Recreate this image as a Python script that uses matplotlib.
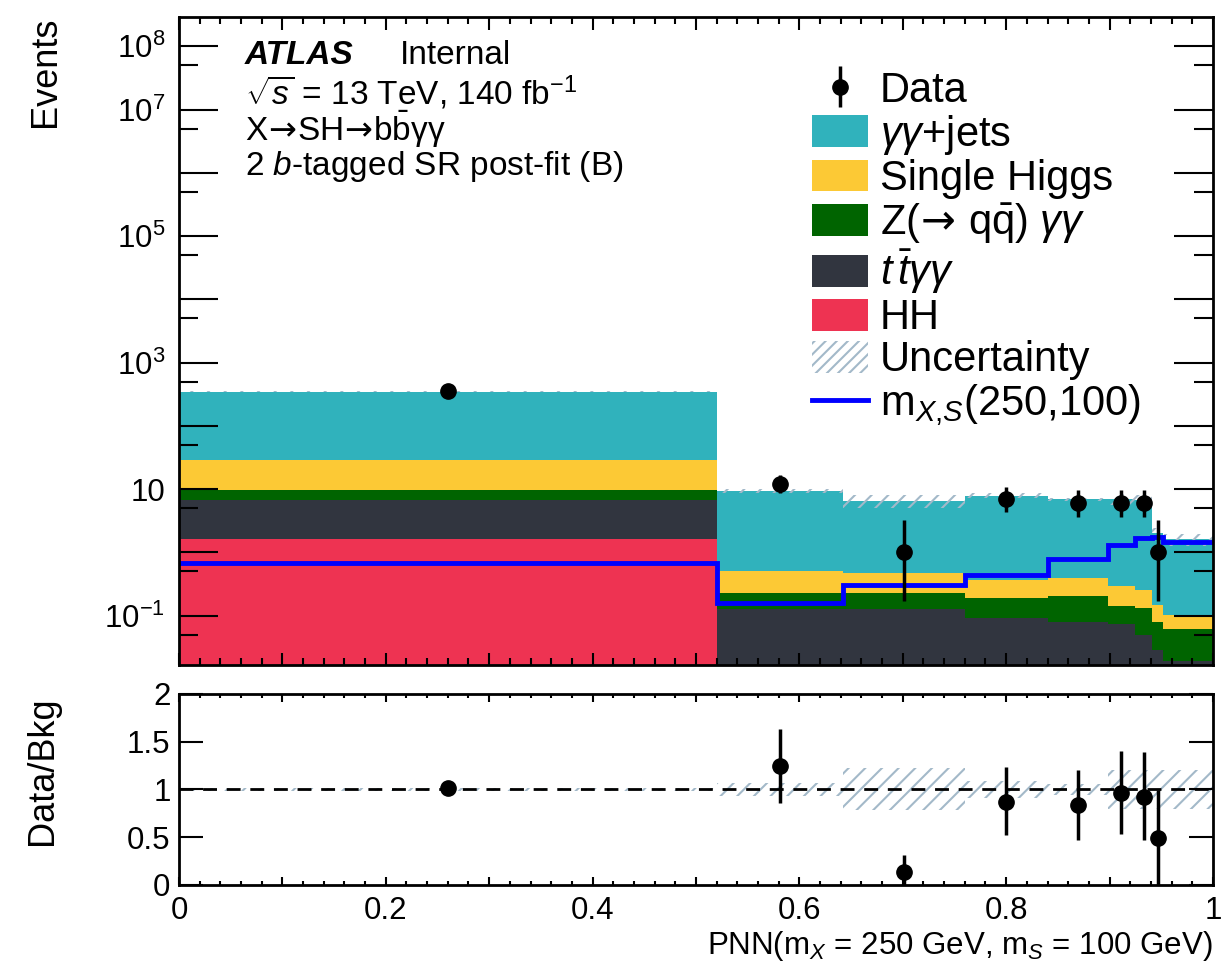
import numpy as np
import matplotlib
matplotlib.use('Agg')
import matplotlib.pyplot as plt
from matplotlib.patches import Patch
from matplotlib.lines import Line2D
from matplotlib.ticker import FixedLocator, FuncFormatter, MultipleLocator, NullFormatter

plt.rcParams['font.family'] = ['Liberation Sans', 'DejaVu Sans']
plt.rcParams['mathtext.fontset'] = 'custom'
plt.rcParams['mathtext.rm'] = 'Liberation Sans'
plt.rcParams['mathtext.it'] = 'Liberation Sans:italic'
plt.rcParams['mathtext.bf'] = 'Liberation Sans:bold'
plt.rcParams['mathtext.sf'] = 'DejaVu Sans'
plt.rcParams['hatch.linewidth'] = 1.5

# bin edges of PNN score
edges = [0.0, 0.52, 0.642, 0.76, 0.84, 0.898, 0.925, 0.941, 0.952, 1.0]

# background components (events per bin), stacked bottom -> top
hh       = [1.63, 0.004, 0.004, 0.004, 0.004, 0.003, 0.003, 0.002, 0.002]
ttyy     = [5.17, 0.122, 0.122, 0.087, 0.076, 0.070, 0.046, 0.027, 0.017]
zqq_yy   = [3.0, 0.104, 0.100, 0.101, 0.127, 0.068, 0.081, 0.049, 0.042]
single_h = [19.2, 0.284, 0.254, 0.174, 0.183, 0.152, 0.124, 0.068, 0.040]
yy_jets  = [318.0, 8.93, 6.08, 7.50, 6.51, 6.70, 6.55, 1.85, 1.50]
rel_unc  = [0.02, 0.07, 0.22, 0.09, 0.06, 0.20, 0.20, 0.20, 0.20]

# signal m_X = 250, m_S = 100
signal = [0.69, 0.16, 0.305, 0.44, 0.78, 1.33, 1.66, 1.75, 1.48]

# data (first 8 bins, last bin empty)
data        = [356, 12, 1, 7, 6, 6, 6, 1]
data_err_lo = [18.9, 3.41, 0.83, 2.58, 2.37, 2.37, 2.37, 0.83]
data_err_hi = [19.9, 4.57, 2.30, 3.78, 3.60, 3.60, 3.60, 2.30]

# data / bkg ratio
ratio    = [1.02, 1.25, 0.14, 0.87, 0.84, 0.96, 0.925, 0.49]
ratio_lo = [0.05, 0.39, 0.14, 0.35, 0.37, 0.43, 0.455, 0.49]
ratio_hi = [0.05, 0.38, 0.17, 0.36, 0.36, 0.44, 0.465, 0.50]

col_yy = '#30b2bc'
col_sh = '#fcc935'
col_z = '#006400'
col_tt = '#31353f'
col_hh = '#ee3352'
col_unc = '#a3b9c9'

edges = np.array(edges)
centers = 0.5 * (edges[:-1] + edges[1:])
ndata = len(data)

fig = plt.figure(figsize=(12.24, 9.61), dpi=100)
ax = fig.add_axes([0.1462, 0.308, 0.8448, 0.6743])
ax2 = fig.add_axes([0.1462, 0.0791, 0.8448, 0.1988])

# stack
bottom = np.full(len(yy_jets), 1e-4)
for vals, c in [(hh, col_hh), (ttyy, col_tt), (zqq_yy, col_z), (single_h, col_sh), (yy_jets, col_yy)]:
    top = bottom + np.array(vals)
    ax.stairs(top, edges, baseline=bottom, fill=True, color=c, lw=0)
    bottom = top
total = bottom

unc = np.array(rel_unc)
ax.stairs(total * (1 + unc), edges, baseline=total * (1 - unc), fill=True,
          facecolor='none', edgecolor=col_unc, hatch='//', lw=0)
ax.stairs(signal, edges, baseline=None, color='#0000ff', lw=3.5)
deb = ax.errorbar(centers[:ndata], data, yerr=[data_err_lo, data_err_hi], fmt='o', color='k',
                  ms=11, elinewidth=2.5, capsize=0, zorder=5)

ax.set_yscale('log')
ax.set_xlim(0, 1)
ax.set_ylim(0.0166, 2.9e8)

ylabels = {-1: r'$10^{-1}$', 1: '10', 3: r'$10^{3}$', 5: r'$10^{5}$', 7: r'$10^{7}$', 8: r'$10^{8}$'}
ax.yaxis.set_major_locator(FixedLocator(10.0 ** np.arange(-1, 9)))
ax.yaxis.set_major_formatter(FuncFormatter(lambda v, p: ylabels.get(int(round(np.log10(v))), '')))
ax.yaxis.set_minor_locator(FixedLocator(5 * 10.0 ** np.arange(-2, 8)))
ax.yaxis.set_minor_formatter(NullFormatter())

def xfmt(v, p):
    k = int(round(v * 10))
    if k % 2:
        return ''
    return '%g' % (k / 10.0)

for a in (ax, ax2):
    a.xaxis.set_major_locator(MultipleLocator(0.1))
    a.xaxis.set_minor_locator(MultipleLocator(0.02))
    a.xaxis.set_major_formatter(FuncFormatter(xfmt))
    a.tick_params(axis='both', which='both', direction='in', top=True, right=True,
                  width=1.5, labelsize=22.5)
    for s in a.spines.values():
        s.set_linewidth(2)

ax.tick_params(axis='y', which='major', length=28, pad=10)
ax.tick_params(axis='y', which='minor', length=14)
ax.tick_params(axis='x', which='major', length=9)
ax.tick_params(axis='x', which='minor', length=5)
ax.tick_params(labelbottom=False)
ax.set_ylabel('Events', fontsize=26, loc='top', labelpad=30)

arrow = r'$\!\mathsf{\rightarrow}\!$'

# text
ax.text(0.064, 0.941, 'ATLAS', transform=ax.transAxes, fontsize=24, fontweight='bold',
        fontstyle='italic', va='center')
ax.text(0.214, 0.941, 'Internal', transform=ax.transAxes, fontsize=24, va='center')
ax.text(0.064, 0.883, r'$\sqrt{s}$ = 13 TeV, 140 fb$^{-1}$', transform=ax.transAxes,
        fontsize=24, va='center')
ax.text(0.064, 0.826, 'X' + arrow + 'SH' + arrow + 'b$\\bar{\\mathrm{b}}$γγ',
        transform=ax.transAxes, fontsize=24, va='center')
ax.text(0.064, 0.770, r'2 $b$-tagged SR post-fit (B)', transform=ax.transAxes,
        fontsize=24, va='center')

handles = [deb,
           Patch(facecolor=col_yy, edgecolor='none'),
           Patch(facecolor=col_sh, edgecolor='none'),
           Patch(facecolor=col_z, edgecolor='none'),
           Patch(facecolor=col_tt, edgecolor='none'),
           Patch(facecolor=col_hh, edgecolor='none'),
           Patch(facecolor='none', edgecolor=col_unc, hatch='///', lw=0),
           Line2D([], [], color='#0000ff', lw=3.5)]
labels = ['Data', r'$\gamma\gamma$+jets', 'Single Higgs',
          'Z(' + arrow + ' q$\\bar{\\mathrm{q}}$) $\\gamma\\gamma$',
          r'$t\,\bar{t}\gamma\gamma$', 'HH', 'Uncertainty', r'm$_{X{,}S}$(250,100)']
ax.legend(handles, labels, loc='upper left', bbox_to_anchor=(0.612, 0.917), frameon=False,
          fontsize=30, handlelength=1.34, handleheight=0.8, handletextpad=0.29,
          labelspacing=0.05, borderpad=0, borderaxespad=0)

# ratio panel
ax2.stairs(1 + unc, edges, baseline=1 - unc, fill=True, facecolor='none',
           edgecolor=col_unc, hatch='//', lw=0)
ax2.axhline(1, color='k', ls=(0, (5, 3.5)), lw=2)
ax2.errorbar(centers[:ndata], ratio, yerr=[ratio_lo, ratio_hi], fmt='o', color='k',
             ms=11, elinewidth=2.5, capsize=0, zorder=5)
ax2.set_xlim(0, 1)
ax2.set_ylim(0, 2)
ax2.yaxis.set_major_locator(FixedLocator([0, 0.5, 1, 1.5, 2]))
ax2.yaxis.set_major_formatter(FuncFormatter(lambda v, p: '%g' % v))
ax2.tick_params(axis='y', which='major', length=17, pad=6)
ax2.tick_params(axis='x', which='major', length=6, pad=8)
ax2.tick_params(axis='x', which='minor', length=3)
ax2.set_ylabel('Data/Bkg', fontsize=26, labelpad=48, y=0.6)
ax2.set_xlabel(r'PNN(m$_{X}$ = 250 GeV, m$_{S}$ = 100 GeV)', fontsize=22.5, loc='right', labelpad=2)

fig.savefig('out.png', dpi=100)
